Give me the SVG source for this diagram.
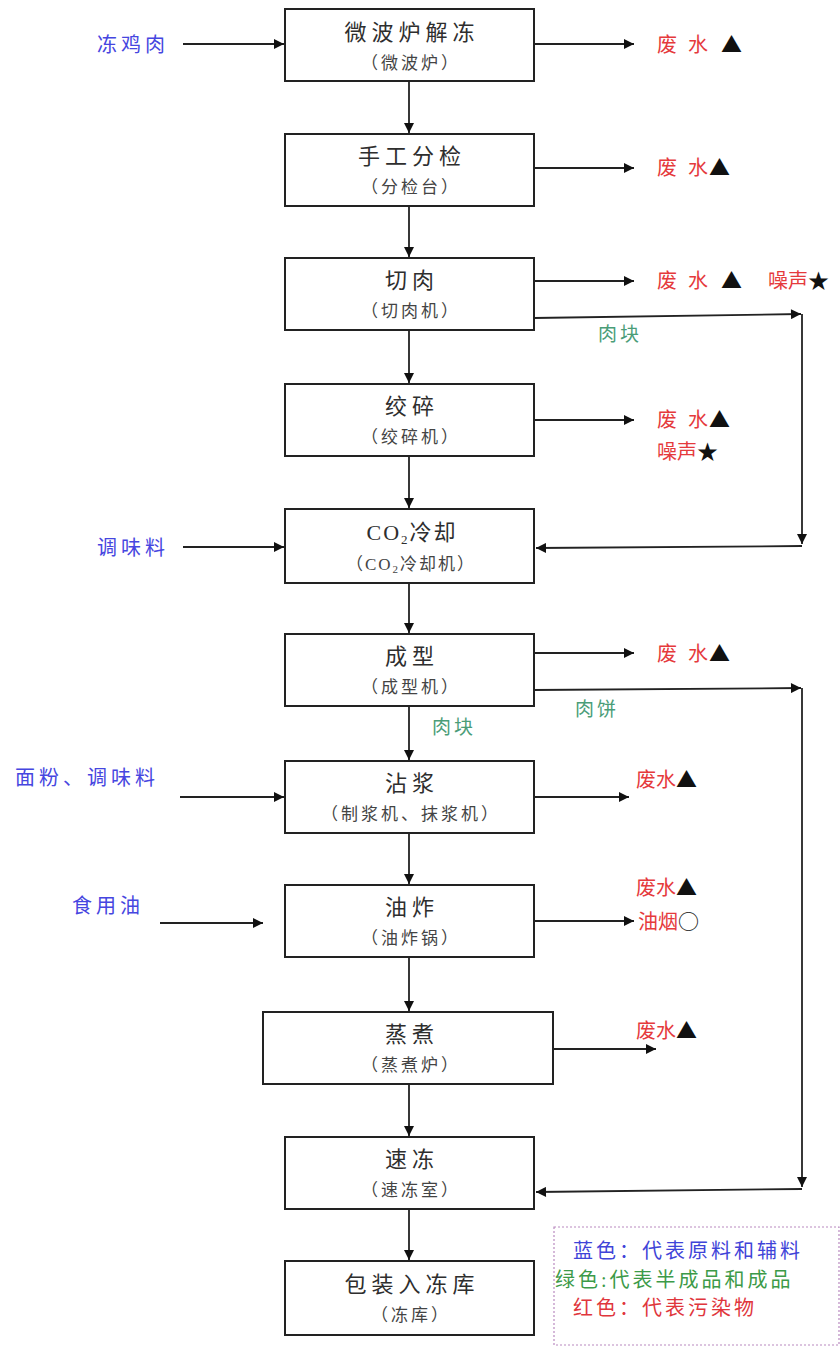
<svg xmlns="http://www.w3.org/2000/svg" width="840" height="1351" viewBox="0 0 840 1351">
  <defs>
    <marker id="ah" viewBox="0 0 10 10" refX="10" refY="5" markerWidth="11" markerHeight="10" markerUnits="userSpaceOnUse" orient="auto">
      <path d="M0,0 L10,5 L0,10 z" fill="#111"/>
    </marker>
    <style>
      text { font-family: "Liberation Serif", "Noto Sans CJK SC", serif; }
      .box { fill: #fff; stroke: #222; stroke-width: 2; }
      .ttl { font-size: 22px; fill: #2e2e2e; text-anchor: middle; letter-spacing: 5px; }
      .sub { font-size: 17px; fill: #444; text-anchor: middle; letter-spacing: 3px; }
      .in { font-size: 20px; fill: #4646e0; letter-spacing: 4px; }
      .out { font-size: 20px; fill: #e53a3c; letter-spacing: 2px; }
      .mid { font-size: 19px; fill: #4a9d78; letter-spacing: 3px; }
      .blk { fill: #111; font-family: "Noto Sans CJK SC", sans-serif; font-size: 21px; }
      .lg { font-size: 20px; letter-spacing: 3px; }
      .cn line { stroke: #222; stroke-width: 1.8; fill: none; marker-end: url(#ah); }
    </style>
  </defs>
  <rect width="840" height="1351" fill="#fff"/>

  <!-- process steps -->
  <g id="thaw">
    <rect class="box" x="285" y="9" width="249" height="72"/>
    <text class="ttl" x="412" y="40">微波炉解冻</text>
    <text class="sub" x="411" y="69">（微波炉）</text>
  </g>
  <g id="sort">
    <rect class="box" x="285" y="134" width="249" height="72"/>
    <text class="ttl" x="412" y="164">手工分检</text>
    <text class="sub" x="411" y="193">（分检台）</text>
  </g>
  <g id="cut">
    <rect class="box" x="285" y="258" width="249" height="72"/>
    <text class="ttl" x="412" y="288">切肉</text>
    <text class="sub" x="411" y="317">（切肉机）</text>
  </g>
  <g id="mince">
    <rect class="box" x="285" y="384" width="249" height="72"/>
    <text class="ttl" x="412" y="414">绞碎</text>
    <text class="sub" x="411" y="443">（绞碎机）</text>
  </g>
  <g id="cool">
    <rect class="box" x="285" y="509" width="249" height="74"/>
    <text class="ttl" x="412" y="540" style="letter-spacing:2px">CO<tspan font-size="13" dy="4">2</tspan><tspan dy="-4">冷却</tspan></text>
    <text class="sub" x="411" y="570" style="letter-spacing:2px">（CO<tspan font-size="11" dy="3">2</tspan><tspan dy="-3">冷却机）</tspan></text>
  </g>
  <g id="shape">
    <rect class="box" x="285" y="634" width="249" height="72"/>
    <text class="ttl" x="412" y="664">成型</text>
    <text class="sub" x="411" y="693">（成型机）</text>
  </g>
  <g id="batter">
    <rect class="box" x="285" y="761" width="249" height="72"/>
    <text class="ttl" x="412" y="791">沾浆</text>
    <text class="sub" x="411" y="820">（制浆机、抹浆机）</text>
  </g>
  <g id="fry">
    <rect class="box" x="285" y="885" width="249" height="72"/>
    <text class="ttl" x="412" y="915">油炸</text>
    <text class="sub" x="411" y="944">（油炸锅）</text>
  </g>
  <g id="steam">
    <rect class="box" x="263" y="1012" width="290" height="72"/>
    <text class="ttl" x="412" y="1042">蒸煮</text>
    <text class="sub" x="411" y="1071">（蒸煮炉）</text>
  </g>
  <g id="freeze">
    <rect class="box" x="285" y="1137" width="249" height="72"/>
    <text class="ttl" x="412" y="1167">速冻</text>
    <text class="sub" x="411" y="1196">（速冻室）</text>
  </g>
  <g id="pack">
    <rect class="box" x="285" y="1261" width="249" height="74"/>
    <text class="ttl" x="412" y="1292">包装入冻库</text>
    <text class="sub" x="411" y="1321">（冻库）</text>
  </g>

  <!-- inputs -->
  <g id="inputs">
    <text class="in" x="97" y="52">冻鸡肉</text>
    <text class="in" x="97" y="555">调味料</text>
    <text class="in" x="15" y="785">面粉、调味料</text>
    <text class="in" x="72" y="913">食用油</text>
  </g>

  <!-- emissions -->
  <g id="outputs">
    <text class="out" x="657" y="52">废<tspan x="688">水</tspan><tspan class="blk" x="721">▲</tspan></text>
    <text class="out" x="657" y="175">废<tspan x="688">水</tspan><tspan class="blk" x="709">▲</tspan></text>
    <text class="out" x="657" y="288">废<tspan x="688">水</tspan><tspan class="blk" x="721">▲</tspan></text>
    <text class="out" x="768" y="288" style="letter-spacing:0">噪声<tspan class="blk">★</tspan></text>
    <text class="out" x="657" y="427">废<tspan x="688">水</tspan><tspan class="blk" x="709">▲</tspan></text>
    <text class="out" x="657" y="459" style="letter-spacing:0">噪声<tspan class="blk">★</tspan></text>
    <text class="out" x="657" y="661">废<tspan x="688">水</tspan><tspan class="blk" x="709">▲</tspan></text>
    <text class="out" x="636" y="787" style="letter-spacing:0">废水<tspan class="blk">▲</tspan></text>
    <text class="out" x="636" y="895" style="letter-spacing:0">废水<tspan class="blk">▲</tspan></text>
    <text class="out" x="638" y="929" style="letter-spacing:0">油烟<tspan class="blk">○</tspan></text>
    <text class="out" x="636" y="1038" style="letter-spacing:0">废水<tspan class="blk">▲</tspan></text>
  </g>

  <!-- intermediate products -->
  <g id="products">
    <text class="mid" x="598" y="341">肉块</text>
    <text class="mid" x="575" y="716">肉饼</text>
    <text class="mid" x="432" y="734">肉块</text>
  </g>

  <!-- connectors -->
  <g id="connectors" class="cn">
    <!-- main flow -->
    <line x1="409" y1="81" x2="409" y2="133"/>
    <line x1="409" y1="206" x2="409" y2="257"/>
    <line x1="409" y1="330" x2="409" y2="383"/>
    <line x1="409" y1="456" x2="409" y2="508"/>
    <line x1="409" y1="583" x2="409" y2="633"/>
    <line x1="409" y1="706" x2="409" y2="760"/>
    <line x1="409" y1="833" x2="409" y2="884"/>
    <line x1="409" y1="957" x2="409" y2="1011"/>
    <line x1="409" y1="1084" x2="409" y2="1136"/>
    <line x1="409" y1="1209" x2="409" y2="1260"/>
    <!-- inputs -->
    <line x1="183" y1="44" x2="284" y2="44"/>
    <line x1="183" y1="547" x2="284" y2="547"/>
    <line x1="180" y1="797" x2="284" y2="797"/>
    <line x1="160" y1="923" x2="263" y2="923"/>
    <!-- emissions -->
    <line x1="534" y1="44" x2="634" y2="44"/>
    <line x1="534" y1="168" x2="634" y2="168"/>
    <line x1="534" y1="281" x2="634" y2="281"/>
    <line x1="534" y1="420" x2="634" y2="420"/>
    <line x1="534" y1="653" x2="634" y2="653"/>
    <line x1="534" y1="797" x2="629" y2="797"/>
    <line x1="534" y1="921" x2="634" y2="921"/>
    <line x1="553" y1="1049" x2="656" y2="1049"/>
    <!-- bypass: meat chunks to cooling -->
    <line x1="534" y1="318" x2="801" y2="314"/>
    <line x1="802" y1="314" x2="802" y2="544"/>
    <line x1="802" y1="546" x2="536" y2="548"/>
    <!-- bypass: patties to quick freeze -->
    <line x1="534" y1="690" x2="801" y2="688"/>
    <line x1="802" y1="688" x2="802" y2="1187"/>
    <line x1="802" y1="1189" x2="536" y2="1192"/>
  </g>

  <!-- colour key -->
  <g id="legend">
    <rect x="554" y="1227" width="285" height="118" fill="none" stroke="#b98ac0" stroke-width="1.2" stroke-dasharray="2,2"/>
    <text class="lg" x="573" y="1258" fill="#3f44d8">蓝色：代表原料和辅料</text>
    <text class="lg" x="555" y="1287" fill="#3c9a48">绿色:代表半成品和成品</text>
    <text class="lg" x="573" y="1315" fill="#e0363c">红色：代表污染物</text>
  </g>
</svg>
